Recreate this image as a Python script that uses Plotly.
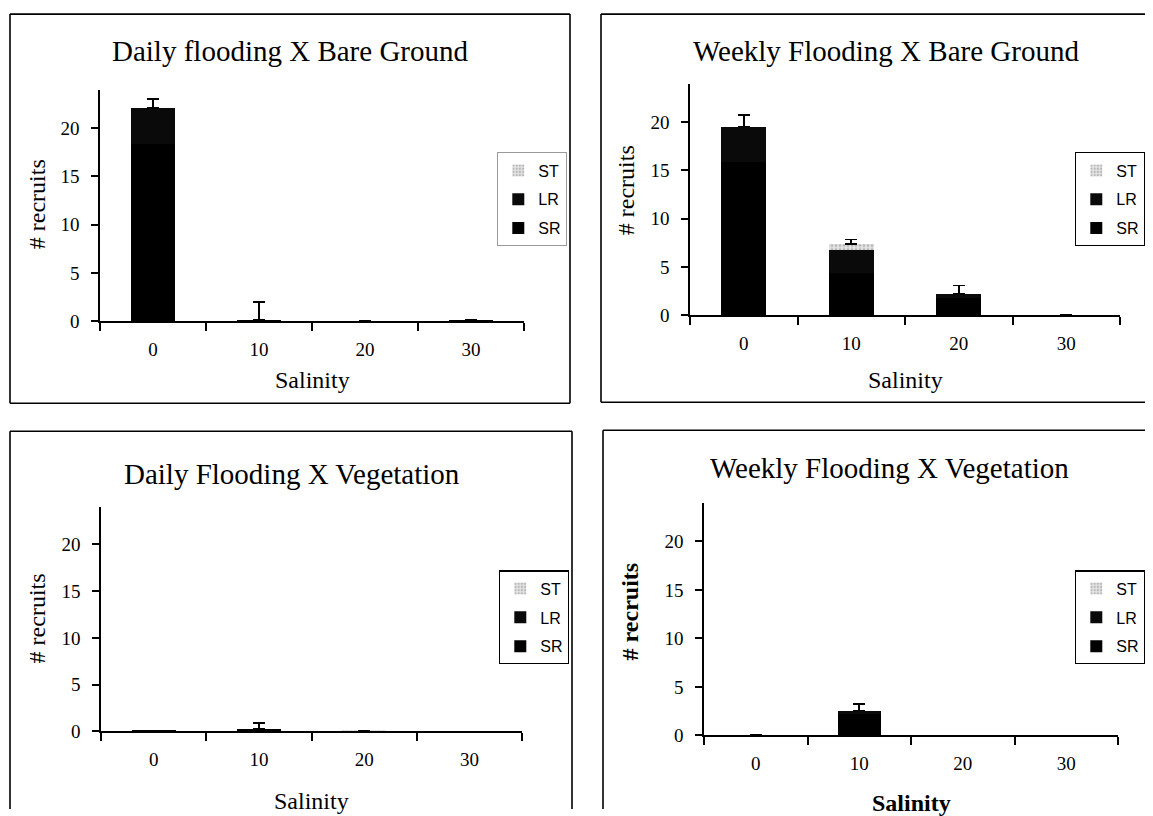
import plotly.graph_objects as go

# ---------------- data ----------------
salinity = ["0", "10", "20", "30"]
series_names = ["SR", "LR", "ST"]  # stacking order bottom -> top
legend_rank = {"ST": 1, "LR": 2, "SR": 3}

# Daily flooding X Bare Ground
dbg_sr = [18.4, 0.15, 0.0, 0.1]
dbg_lr = [3.7, 0.0, 0.0, 0.0]
dbg_st = [0.0, 0.0, 0.0, 0.0]
dbg_err = [0.9, 1.85, None, None]

# Weekly Flooding X Bare Ground
wbg_sr = [15.9, 4.4, 1.75, 0.0]
wbg_lr = [3.65, 2.4, 0.5, 0.0]
wbg_st = [0.0, 0.55, 0.0, 0.0]
wbg_err = [1.2, 0.5, 0.85, None]

# Daily Flooding X Vegetation
dv_sr = [0.1, 0.3, 0.0, 0.0]
dv_lr = [0.0, 0.0, 0.0, 0.0]
dv_st = [0.0, 0.0, 0.1, 0.0]
dv_err = [None, 0.6, None, None]

# Weekly Flooding X Vegetation
wv_sr = [0.0, 2.2, 0.0, 0.0]
wv_lr = [0.0, 0.35, 0.0, 0.0]
wv_st = [0.0, 0.0, 0.0, 0.0]
wv_err = [0.1, 0.7, None, None]

titles = ["Daily flooding X Bare Ground", "Weekly Flooding X Bare Ground",
          "Daily Flooding X Vegetation", "Weekly Flooding X Vegetation"]
y_title = "# recruits"
x_title = "Salinity"
y_ticks = [0, 5, 10, 15, 20]

# ---------------- layout helpers ----------------
# page body has an 8px margin; the viewport is a bit taller than the photo
OFF = 8
SY = 0.986
FW = 1153 - 2 * OFF
FH = round(816 / SY) - 2 * OFF
def fx(p):
    return min(max((p - OFF) / FW, 0), 1)
def fy(p):
    return min(max(1 - (p / SY - OFF) / FH, 0), 1)

SERIF = "Liberation Serif, Times New Roman, serif"
SANS = "Liberation Sans, Arial, sans-serif"
YMAX = 24
EDGE_R, EDGE_B = OFF + FW, 816

# panel geometry in picture pixels
panels = [
    dict(x0=100, x1=524, yz=321, y20=128,
         frame=[((10, 14), (570, 14)), ((10, 14), (10, 403)),
                ((570, 14), (570, 403)), ((10, 403), (570, 403))],
         title=(290, 51), ytitle=(37, 204), xtitle=(312, 380),
         legend=(497, 152, "left"), legend_border="#9a9a9a", bold=False),
    dict(x0=690, x1=1120, yz=315, y20=122,
         frame=[((601, 14), (EDGE_R, 14)), ((601, 14), (601, 402)),
                ((601, 402), (EDGE_R, 402))],
         title=(886, 51), ytitle=(626, 190), xtitle=(905, 380),
         legend=(EDGE_R, 152, "right"), legend_border="#000000", bold=False),
    dict(x0=101, x1=522, yz=731, y20=544,
         frame=[((10, 431), (572, 431)), ((10, 431), (10, EDGE_B)),
                ((572, 431), (572, EDGE_B))],
         title=(292, 474), ytitle=(37, 618), xtitle=(311, 801),
         legend=(499, 570, "left"), legend_border="#000000", bold=False),
    dict(x0=704, x1=1118, yz=735, y20=541,
         frame=[((603, 430), (EDGE_R, 430)), ((603, 430), (603, EDGE_B))],
         title=(890, 468), ytitle=(630, 611), xtitle=(911, 803),
         legend=(EDGE_R, 570, "right"), legend_border="#000000", bold=True),
]

data_sets = [
    (dbg_sr, dbg_lr, dbg_st, dbg_err),
    (wbg_sr, wbg_lr, wbg_st, wbg_err),
    (dv_sr, dv_lr, dv_st, dv_err),
    (wv_sr, wv_lr, wv_st, wv_err),
]

fig = go.Figure()
layout = dict(
    width=FW, height=FH,
    margin=dict(l=0, r=0, t=0, b=0),
    paper_bgcolor="white", plot_bgcolor="white",
    barmode="stack", bargap=0.58,
    showlegend=True,
    shapes=[], annotations=[],
)

for i, (pn, ds) in enumerate(zip(panels, data_sets)):
    sfx = "" if i == 0 else str(i + 1)
    xa, ya = "x" + sfx, "y" + sfx
    leg = "legend" + sfx
    sr, lr, st, err = ds
    vals = {"SR": sr, "LR": lr, "ST": st}
    styles = {
        "SR": dict(color="#000000"),
        "LR": dict(color="#0a0a0a"),
        "ST": dict(color="#d8d8d8",
                   pattern=dict(shape=".", fgcolor="#8a8a8a", bgcolor="#e6e6e6",
                                size=4, solidity=0.4)),
    }
    for name in series_names:
        tr = dict(
            x=salinity, y=vals[name], name=name,
            xaxis=xa, yaxis=ya, legend=leg,
            legendgroup=f"p{i}_{name}", legendrank=legend_rank[name],
            marker=dict(line=dict(width=0), **styles[name]),
            hoverinfo="x+y+name",
        )
        if name == "ST":
            tr["error_y"] = dict(type="data", array=err, arrayminus=[0] * len(err),
                                 symmetric=False, color="#000000",
                                 thickness=1.6, width=6)
        fig.add_trace(go.Bar(**tr))

    top_px = pn["yz"] - (pn["yz"] - pn["y20"]) * YMAX / 20
    layout["xaxis" + sfx] = dict(
        domain=[fx(pn["x0"]), fx(pn["x1"])], anchor=ya, type="category",
        categoryorder="array", categoryarray=salinity,
        range=[-0.5, 3.5], tickson="boundaries", ticks="outside", ticklen=8,
        tickwidth=1.5, tickcolor="#000", showline=True, linecolor="#000",
        linewidth=1.6, showgrid=False, zeroline=False,
        tickfont=dict(family=SERIF, size=19, color="#000"),
        ticklabelstandoff=10, fixedrange=True,
    )
    layout["yaxis" + sfx] = dict(
        domain=[fy(pn["yz"]), fy(top_px)], anchor=xa,
        range=[0, YMAX], tickmode="array", tickvals=y_ticks,
        ticks="outside", ticklen=7, tickwidth=1.5, tickcolor="#000",
        showline=True, linecolor="#000", linewidth=1.6,
        showgrid=False, zeroline=False,
        tickfont=dict(family=SERIF, size=19, color="#000"),
        ticklabelstandoff=8, fixedrange=True,
    )
    lx, ly, lanchor = pn["legend"]
    layout[leg] = dict(
        x=fx(lx), y=fy(ly), xanchor=lanchor, yanchor="top",
        xref="paper", yref="paper",
        bgcolor="white", bordercolor=pn["legend_border"], borderwidth=1.3,
        font=dict(family=SANS, size=16, color="#000"),
        traceorder="grouped", tracegroupgap=5,
        itemwidth=30,
    )
    # panel frame (sides cut by the page edge are left open)
    for (ax0, ay0), (ax1, ay1) in pn["frame"]:
        layout["shapes"].append(dict(
            type="line", xref="paper", yref="paper",
            x0=fx(ax0), y0=fy(ay0), x1=fx(ax1), y1=fy(ay1),
            line=dict(color="#000", width=1.6), layer="below"))
    tx, ty = pn["title"]
    layout["annotations"].append(dict(
        text=titles[i], x=fx(tx), y=fy(ty), xref="paper", yref="paper",
        xanchor="center", yanchor="middle", showarrow=False,
        font=dict(family=SERIF, size=29, color="#000")))
    wt = "bold" if pn["bold"] else "normal"
    yx, yy = pn["ytitle"]
    layout["annotations"].append(dict(
        text=y_title, x=fx(yx), y=fy(yy), xref="paper", yref="paper",
        xanchor="center", yanchor="middle", showarrow=False, textangle=-90,
        font=dict(family=SERIF, size=24, color="#000", weight=wt)))
    xx, xy = pn["xtitle"]
    layout["annotations"].append(dict(
        text=x_title, x=fx(xx), y=fy(xy), xref="paper", yref="paper",
        xanchor="center", yanchor="middle", showarrow=False,
        font=dict(family=SERIF, size=24, color="#000", weight=wt)))

fig.update_layout(**layout)
fig.write_html("out.html")
